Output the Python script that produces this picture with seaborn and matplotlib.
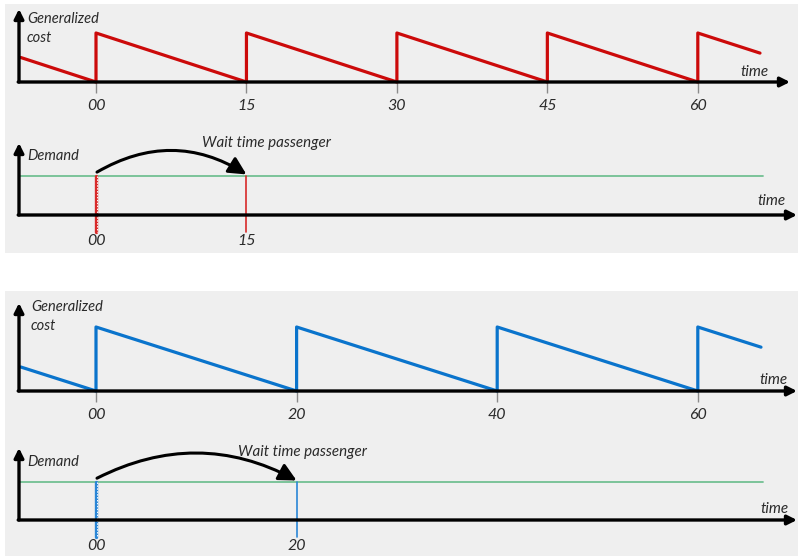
import matplotlib
matplotlib.use("Agg")
import matplotlib.pyplot as plt
from matplotlib.patches import Rectangle
import seaborn as sns
import pandas as pd

# ---------------- data ----------------
top_times = [-7.5, 0, 0, 15, 15, 30, 30, 45, 45, 60, 60, 66.2]
top_cost = [0.5, 0, 1, 0, 1, 0, 1, 0, 1, 0, 1, 0.59]
top_ticks = [0, 15, 30, 45, 60]
top_tick_labels = ["00", "15", "30", "45", "60"]
top_wait = [0, 15]

bot_times = [-7.5, 0, 0, 20, 20, 40, 40, 60, 60, 66.3]
bot_cost = [0.375, 0, 1, 0, 1, 0, 1, 0, 1, 0.685]
bot_ticks = [0, 20, 40, 60]
bot_tick_labels = ["00", "20", "40", "60"]
bot_wait = [0, 20]

demand_times = [-7.6, 66.5]
demand_level = [1.0, 1.0]

RED = "#CC0A0A"
RED_LIGHT = "#D82A2A"
BLUE = "#0A74CC"
BLUE_LIGHT = "#2A86D6"
GREEN = "#72C092"
BG = "#EFEFEF"
TXT = "#2a2a2a"

sns.set_style("white")
plt.rcParams["font.family"] = ["Lato", "DejaVu Sans"]
plt.rcParams["font.style"] = "italic"

W, H = 798, 556
fig = plt.figure(figsize=(W / 100, H / 100), dpi=100)
fig.patch.set_facecolor("white")

# gray panels
for (x0, y0, x1, y1) in [(5, 4, 798, 253), (5, 291, 798, 556)]:
    fig.patches.append(Rectangle((x0 / W, 1 - y1 / H), (x1 - x0) / W, (y1 - y0) / H,
                                 transform=fig.transFigure, facecolor=BG,
                                 edgecolor="none", zorder=-5))

PX_PER_MIN = 10.03
X0 = 96
XLIM = (-X0 / PX_PER_MIN, (W - X0) / PX_PER_MIN)
T_AX = (19 - X0) / PX_PER_MIN


def make_ax(py_top, py_base, px_unit):
    ax = fig.add_axes([0, 1 - py_base / H, 1, (py_base - py_top) / H])
    ax.set_facecolor("none")
    ax.set_xlim(*XLIM)
    ax.set_ylim(0, (py_base - py_top) / px_unit)
    for s in ax.spines.values():
        s.set_visible(False)
    ax.set_yticks([])
    ax.set_xlabel("")
    ax.set_ylabel("")
    return ax


def axis_arrows(ax, x_end, y_top):
    ax.annotate("", xy=(x_end, 0), xytext=(T_AX - 0.08, 0),
                arrowprops=dict(arrowstyle="-|>", lw=2.4, color="black",
                                shrinkA=0, shrinkB=0, mutation_scale=14),
                annotation_clip=False, zorder=5)
    ax.annotate("", xy=(T_AX, y_top), xytext=(T_AX, 0),
                arrowprops=dict(arrowstyle="-|>", lw=2.4, color="black",
                                shrinkA=0, shrinkB=0, mutation_scale=14),
                annotation_clip=False, zorder=5)


def ftext(x, y, s, size=10.5, ha="left"):
    fig.text(x / W, 1 - y / H, s, ha=ha, va="center", fontsize=size,
             color=TXT, style="italic")


def cost_chart(py_top, py_base, px_unit, times, cost, ticks, labels, color, x_end, y_top):
    ax = make_ax(py_top, py_base, px_unit)
    df = pd.DataFrame({"t": times, "c": cost})
    sns.lineplot(data=df, x="t", y="c", sort=False, estimator=None, color=color,
                 lw=2.3, ax=ax, clip_on=False, zorder=4)
    ax.set_xlabel("")
    ax.set_ylabel("")
    ax.set_xticks(ticks)
    ax.set_xticklabels(labels, fontsize=11.5, color=TXT, style="italic")
    ax.tick_params(axis="x", bottom=True, length=8, width=1, color="#8a8a8a",
                   direction="out", pad=4)
    axis_arrows(ax, x_end, y_top)
    return ax


def demand_chart(py_top, py_base, px_unit, wait, color, y_low, arrow_rad, y_top):
    ax = make_ax(py_top, py_base, px_unit)
    df = pd.DataFrame({"t": demand_times, "d": demand_level})
    sns.lineplot(data=df, x="t", y="d", color=GREEN, lw=1.3, ax=ax,
                 estimator=None, clip_on=False, zorder=3)
    ax.set_xlabel("")
    ax.set_ylabel("")
    # first departure (dashed thick) and next departure (thin)
    ax.plot([wait[0], wait[0]], [demand_level[0], y_low], color=color, lw=2.4,
            clip_on=False, zorder=4)
    ax.plot([wait[0] + 0.12, wait[0] + 0.12], [demand_level[0], y_low], color="white",
            lw=0.7, ls=(0, (1.5, 1.5)), clip_on=False, zorder=4)
    ax.plot([wait[1], wait[1]], [demand_level[0], y_low], color=color, lw=1.2,
            clip_on=False, zorder=4)
    ax.set_xticks(wait)
    ax.set_xticklabels(["00", f"{wait[1]:d}"], fontsize=11.5, color=TXT, style="italic")
    ax.tick_params(axis="x", bottom=True, length=0, pad=14)
    ax.annotate("", xy=(wait[1], demand_level[0] + 0.04),
                xytext=(wait[0] + 0.1, demand_level[0] + 0.1),
                arrowprops=dict(arrowstyle="-|>,head_length=0.75,head_width=0.38",
                                lw=2.2, color="black", shrinkA=0, shrinkB=0,
                                mutation_scale=14,
                                connectionstyle=f"arc3,rad={arrow_rad}"),
                annotation_clip=False, zorder=6)
    axis_arrows(ax, XLIM[1] - 0.1, y_top)
    return ax


# ---- top panel (15 minute headway) ----
cost_chart(6, 82, 49, top_times, top_cost, top_ticks, top_tick_labels, RED,
           (790 - X0) / PX_PER_MIN, (82 - 9) / 49)
demand_chart(130, 215, 39, top_wait, RED_LIGHT, -0.44, -0.30, (215 - 143) / 39)

ftext(27, 19, "Generalized")
ftext(27, 38, "cost")
ftext(740, 72, "time", size=11)
ftext(27, 156, "Demand")
ftext(202, 143, "Wait time passenger", size=10.9)
ftext(757, 201, "time", size=11)

# ---- bottom panel (20 minute headway) ----
cost_chart(293, 391, 64, bot_times, bot_cost, bot_ticks, bot_tick_labels, BLUE,
           XLIM[1] - 0.1, (391 - 303) / 64)
demand_chart(430, 520, 38, bot_wait, BLUE_LIGHT, -0.45, -0.26, (520 - 448) / 38)

ftext(31, 307, "Generalized")
ftext(31, 326, "cost")
ftext(759, 380, "time", size=11)
ftext(27, 462, "Demand")
ftext(238, 452, "Wait time passenger", size=10.9)
ftext(760, 509, "time", size=11)

fig.savefig("out.png", dpi=100, facecolor="white")
